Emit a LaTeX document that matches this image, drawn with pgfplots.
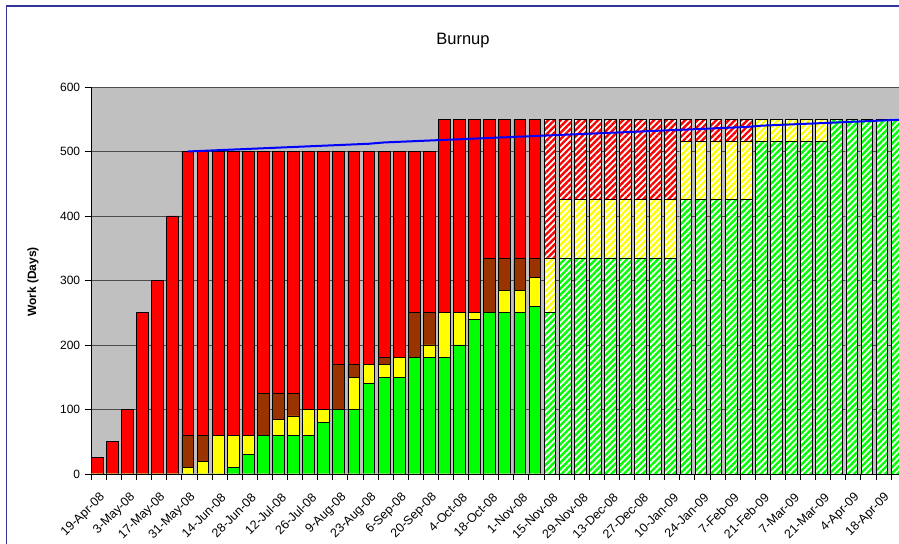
\documentclass[border=0pt]{standalone}
\usepackage{fontspec}
\setmainfont{Liberation Sans}
\usepackage{pgfplots}
\pgfplotsset{compat=1.18}
\usepackage{pgfplotstable}
\usetikzlibrary{patterns.meta}

\definecolor{xlgray}{RGB}{192,192,192}
\definecolor{xlgreen}{RGB}{0,255,0}
\definecolor{xlyellow}{RGB}{255,255,0}
\definecolor{xlbrown}{RGB}{153,51,0}
\definecolor{xlred}{RGB}{255,0,0}
\definecolor{xlblue}{RGB}{0,0,255}
\definecolor{framenavy}{RGB}{51,51,153}

% cumulative tops per week (days): total, brown top, yellow top, green (done)
% h* = forecast bars (hatched)
\pgfplotstableread{
i  tot bt  yt  g   htot hyt hg
0  25  0   0   0   0    0   0
1  50  0   0   0   0    0   0
2  100 0   0   0   0    0   0
3  250 0   0   0   0    0   0
4  300 0   0   0   0    0   0
5  400 0   0   0   0    0   0
6  500 60  10  0   0    0   0
7  500 60  20  0   0    0   0
8  500 60  60  0   0    0   0
9  500 60  60  10  0    0   0
10 500 60  60  30  0    0   0
11 500 125 60  60  0    0   0
12 500 125 85  60  0    0   0
13 500 125 90  60  0    0   0
14 500 100 100 60  0    0   0
15 500 100 100 80  0    0   0
16 500 170 100 100 0    0   0
17 500 170 150 100 0    0   0
18 500 170 170 140 0    0   0
19 500 180 170 150 0    0   0
20 500 180 180 150 0    0   0
21 500 250 180 180 0    0   0
22 500 250 200 180 0    0   0
23 550 250 250 180 0    0   0
24 550 250 250 200 0    0   0
25 550 250 250 240 0    0   0
26 550 335 250 250 0    0   0
27 550 335 285 250 0    0   0
28 550 335 285 250 0    0   0
29 550 335 305 260 0    0   0
30 0   0   0   0   550  335 250
31 0   0   0   0   550  425 335
32 0   0   0   0   550  425 335
33 0   0   0   0   550  425 335
34 0   0   0   0   550  425 335
35 0   0   0   0   550  425 335
36 0   0   0   0   550  425 335
37 0   0   0   0   550  425 335
38 0   0   0   0   550  425 335
39 0   0   0   0   550  515 425
40 0   0   0   0   550  515 425
41 0   0   0   0   550  515 425
42 0   0   0   0   550  515 425
43 0   0   0   0   550  515 425
44 0   0   0   0   550  550 515
45 0   0   0   0   550  550 515
46 0   0   0   0   550  550 515
47 0   0   0   0   550  550 515
48 0   0   0   0   550  550 515
49 0   0   0   0   550  550 550
50 0   0   0   0   550  550 550
51 0   0   0   0   550  550 550
52 0   0   0   0   550  550 550
53 0   0   0   0   550  550 550
}\burnup

\pgfplotstableread{
i  v
6  500
7  501
8  502
9  503
10 504
11 505
12 506
13 507
14 508
15 509
16 510
17 511
18 512
19 514
20 515
21 516
22 517
23 518
24 519
25 520
26 521
27 522
28 523
29 524
30 525
31 526
32 527
33 528
34 529
35 530
36 531
37 532
38 533
39 534
40 535
41 536
42 537
43 538
44 540
45 541
46 542
47 543
48 544
49 545
50 546
51 547
52 548
53 549
54 550
}\scopetable

\pgfplotsset{
  solidbar/.style={ybar, bar width=0.78, bar shift=0pt,
    draw=black, line width=0.8bp, fill=#1},
  hatchbar/.style={ybar, bar width=0.78, bar shift=0pt,
    draw=black, line width=0.8bp, preaction={fill=white},
    pattern={Lines[angle=45,distance=4.4bp,line width=2.4bp]}, pattern color=#1},
}

\begin{document}
\begin{tikzpicture}[x=1bp,y=1bp]
\begin{axis}[
    width=807.7bp, height=387bp, scale only axis,
    xmin=-0.4, xmax=53.13, ymin=0, ymax=600,
    enlargelimits=false,
    axis background/.style={fill=xlgray},
    axis lines*=left,
    axis line style={black, line width=0.8bp},
    tick align=outside,
    major tick length=6bp,
    tick style={black, line width=0.8bp},
    ytick={0,100,...,600},
    ymajorgrids,
    major grid style={black!70, line width=0.8bp},
    xtick={-0.4,0.6,...,52.6},
    xticklabels={},
    extra x ticks={0,2,...,52},
    extra x tick labels={19-Apr-08,3-May-08,17-May-08,31-May-08,14-Jun-08,28-Jun-08,12-Jul-08,26-Jul-08,9-Aug-08,23-Aug-08,6-Sep-08,20-Sep-08,4-Oct-08,18-Oct-08,1-Nov-08,15-Nov-08,29-Nov-08,13-Dec-08,27-Dec-08,10-Jan-09,24-Jan-09,7-Feb-09,21-Feb-09,7-Mar-09,21-Mar-09,4-Apr-09,18-Apr-09},
    extra x tick style={major tick length=0pt,
      tick label style={rotate=45, anchor=east, inner sep=0pt, xshift=-11bp, yshift=-19bp}},
    yticklabel style={font=\fontsize{12bp}{14bp}\selectfont, anchor=east, inner sep=0pt, xshift=-5bp},
    xticklabel style={font=\fontsize{12.5bp}{14bp}\selectfont},
    /pgf/number format/assume math mode=true,
]
\addplot[solidbar=xlred]    table[x=i, y=tot]  {\burnup};
\addplot[solidbar=xlbrown]  table[x=i, y=bt]   {\burnup};
\addplot[solidbar=xlyellow] table[x=i, y=yt]   {\burnup};
\addplot[solidbar=xlgreen]  table[x=i, y=g]    {\burnup};
\addplot[hatchbar=xlred]    table[x=i, y=htot] {\burnup};
\addplot[hatchbar=xlyellow] table[x=i, y=hyt]  {\burnup};
\addplot[hatchbar=xlgreen]  table[x=i, y=hg]   {\burnup};
\addplot[xlblue, line width=2bp, sharp plot, no marks] table[x=i, y=v] {\scopetable};
\coordinate (O) at (rel axis cs:0,0);
\end{axis}

\pgfresetboundingbox
\begin{scope}[shift={(O)}, xshift=-91.3bp, yshift=-70bp]
\useasboundingbox (0,0) rectangle (899,544);
\draw[framenavy, line width=1.6bp] (6.5,0) -- (6.5,538.2) -- (899,538.2);
\node at (463,503) {\fontsize{16.5bp}{19bp}\selectfont Burnup};
\node[rotate=90, font=\bfseries\fontsize{12bp}{14bp}\selectfont] at (33,262) {Work (Days)};
\end{scope}
\end{tikzpicture}
\end{document}
